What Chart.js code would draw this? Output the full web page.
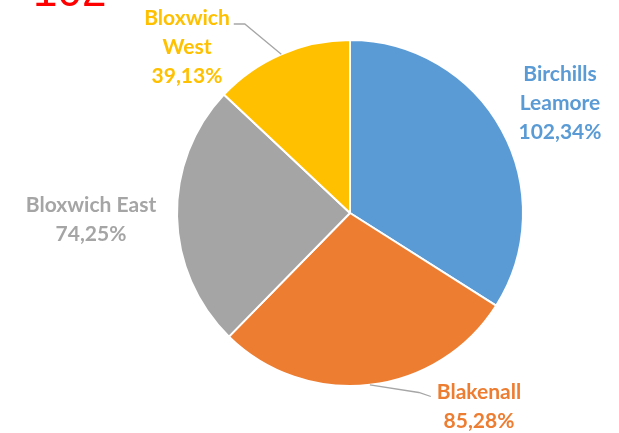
<!DOCTYPE html>
<html>
<head>
<meta charset="utf-8">
<script src="https://cdn.jsdelivr.net/npm/chart.js@4"></script>
<style>
  body { margin: 0; background: #fff; }
  #wrap { position: relative; width: 619px; height: 433px; overflow: hidden; }
  #title { position: absolute; left: 33px; top: -34px; font: 44px "Liberation Sans", sans-serif; color: #ff0000; }
</style>
</head>
<body>
<div id="wrap">
  <div id="title">102</div>
  <canvas id="mypie" width="619" height="433"></canvas>
</div>
<script>
// data
const categories = ['Birchills Leamore', 'Blakenall', 'Bloxwich East', 'Bloxwich West'];
const values = [102.34, 85.28, 74.25, 39.13];
const labelLines = [['Birchills', 'Leamore', '102,34%'], ['Blakenall', '85,28%'], ['Bloxwich East', '74,25%'], ['Bloxwich', 'West', '39,13%']];
const colors = ['#5b9bd5', '#ed7d31', '#a5a5a5', '#ffc000'];
const textColors = ['#5b9bd5', '#ed7d31', '#a5a5a5', '#ffc000'];

// label centre offsets from pie centre (px) and leader flags
const labelPos = [[210, -110], [129, 194], [-259, 7], [-163, -166]];
const leaders = [false, true, false, true];

const pieLabels = {
  id: 'pieLabels',
  afterDraw(chart) {
    const c = chart.ctx;
    const arcs = chart.getDatasetMeta(0).data;
    c.save();
    c.font = 'bold 21px Lato, sans-serif';
    c.textAlign = 'center';
    c.textBaseline = 'middle';
    arcs.forEach(function(arc, i) {
      const cx = arc.x, cy = arc.y;
      const lines = labelLines[i];
      const lx = cx + labelPos[i][0], ly = cy + labelPos[i][1];
      const lh = 29;
      const top = ly - (lines.length - 1) * lh / 2;
      if (leaders[i]) {
        const mid = (arc.startAngle + arc.endAngle) / 2;
        const ex = cx + Math.cos(mid) * arc.outerRadius;
        const ey = cy + Math.sin(mid) * arc.outerRadius;
        const w = c.measureText(lines[0]).width;
        c.strokeStyle = '#a6a6a6';
        c.lineWidth = 1.3;
        c.beginPath();
        c.moveTo(ex, ey);
        if (ex < lx) {
          const tx = lx - w / 2 - 6, ty = top + 4;
          c.lineTo(tx - 12, ty - 4);
          c.lineTo(tx, ty);
        } else {
          const tx = lx + w / 2 + 4, ty = top + 6;
          c.lineTo(tx + 11, ty);
          c.lineTo(tx, ty);
        }
        c.stroke();
      }
      c.fillStyle = textColors[i];
      lines.forEach(function(t, k) {
        c.fillText(t, lx, top + k * lh);
      });
    });
    c.restore();
  }
};

new Chart(document.getElementById('mypie'), {
  type: 'pie',
  data: {
    labels: categories,
    datasets: [{
      data: values,
      backgroundColor: colors,
      borderColor: '#ffffff',
      borderWidth: 2
    }]
  },
  options: {
    responsive: false,
    animation: false,
    layout: { padding: { left: 176, right: 95, top: 39, bottom: 46 } },
    plugins: { legend: { display: false }, tooltip: { enabled: false } }
  },
  plugins: [pieLabels]
});
</script>
</body>
</html>
